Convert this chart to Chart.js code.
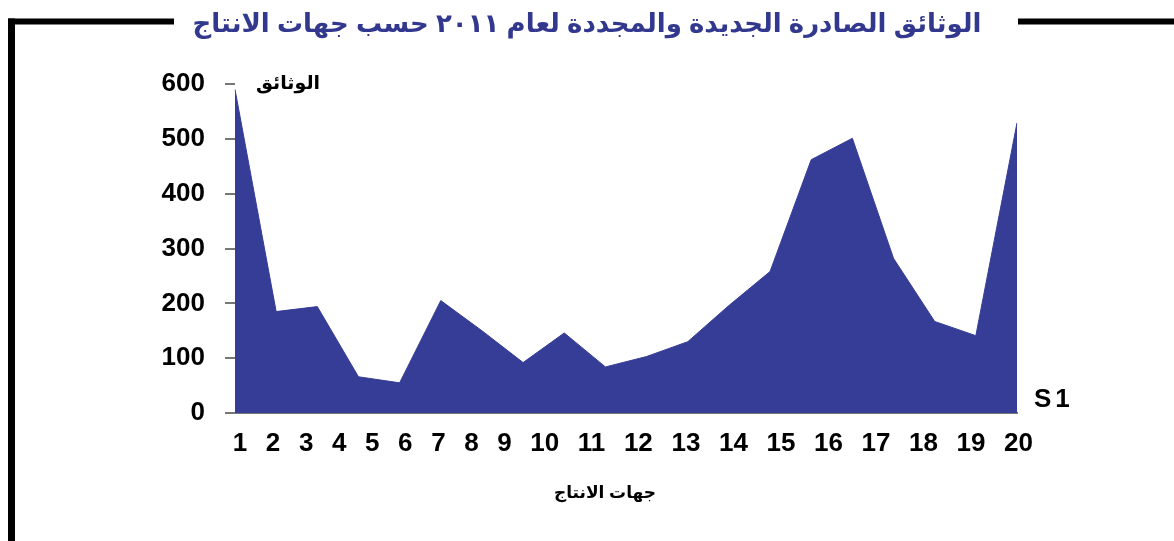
<!DOCTYPE html>
<html>
<head>
<meta charset="utf-8">
<script src="https://cdn.jsdelivr.net/npm/chart.js@4/dist/chart.umd.min.js"></script>
<style>
  html, body { margin: 0; padding: 0; background: #fff; }
  #chart-container { width: 1174px; height: 541px; }
</style>
</head>
<body>
<div id="chart-container"><canvas id="area-chart"></canvas></div>
<script>
// values
const categories = ["1", "2", "3", "4", "5", "6", "7", "8", "9", "10",
                    "11", "12", "13", "14", "15", "16", "17", "18", "19", "20"];
const documents = [590, 185, 194, 66, 55, 205, 150, 92, 146, 84,
                   103, 130, 196, 258, 462, 501, 282, 167, 141, 529];
const yTicks = [0, 100, 200, 300, 400, 500, 600];

const chartTitle = "الوثائق الصادرة الجديدة والمجددة لعام ٢٠١١ حسب جهات الانتاج";
const yTitle = "الوثائق";
const xTitle = "جهات الانتاج";
const seriesName = "S1";

const areaColor = "#363d96";
const titleColor = "#33388f";
const tickFont = { family: "Arial", size: 26, weight: "bold" };

// in the original the category labels run like a line of text
// (fixed gap between them), not under the data points
const labelGap = 18.6;
const labelStart = 5;
const plotWidth = 782;

function labelPositions() {
  const c = document.createElement("canvas").getContext("2d");
  c.font = "bold " + tickFont.size + "px " + tickFont.family;
  const widths = categories.map(t => c.measureText(t).width);
  const pos = [labelStart];
  for (let i = 1; i < widths.length; i++) {
    pos.push(pos[i - 1] + widths[i - 1] / 2 + labelGap + widths[i] / 2);
  }
  return pos;
}

// frame, title and the loose labels round the plot
const framePlugin = {
  id: "frame",
  beforeDraw(chart) {
    const ctx = chart.ctx;
    ctx.save();
    ctx.fillStyle = "#fff";
    ctx.fillRect(0, 0, chart.width, chart.height);
    ctx.strokeStyle = "#000";
    ctx.lineWidth = 6;
    ctx.beginPath();
    ctx.moveTo(8, 21.5);
    ctx.lineTo(174, 21.5);
    ctx.moveTo(1018, 21.5);
    ctx.lineTo(chart.width, 21.5);
    ctx.stroke();
    ctx.lineWidth = 7;
    ctx.beginPath();
    ctx.moveTo(11.5, 18.5);
    ctx.lineTo(11.5, chart.height);
    ctx.stroke();
    ctx.restore();
  },
  afterDraw(chart) {
    const ctx = chart.ctx;
    const area = chart.chartArea;
    const y = chart.scales.y;
    ctx.save();
    ctx.textAlign = "center";
    ctx.textBaseline = "middle";
    ctx.fillStyle = titleColor;
    ctx.font = "bold 26px Arial, 'DejaVu Sans'";
    ctx.fillText(chartTitle, 587, 25);

    ctx.fillStyle = "#000";
    ctx.font = "bold 19px Arial, 'DejaVu Sans'";
    ctx.fillText(yTitle, 288, y.getPixelForValue(600));

    ctx.font = "bold 17px Arial, 'DejaVu Sans'";
    ctx.fillText(xTitle, 605, 493);

    ctx.textAlign = "left";
    ctx.font = "bold 26px Arial";
    ctx.letterSpacing = "4px";
    ctx.fillText(seriesName, area.right + 17, y.getPixelForValue(0) - 13);
    ctx.restore();
  }
};

document.addEventListener("DOMContentLoaded", function () {
  const canvas = document.getElementById("area-chart");
  window.areaChart = new Chart(canvas, {
    type: "line",
    data: {
      labels: categories,
      datasets: [{
        label: seriesName,
        data: documents,
        fill: "origin",
        backgroundColor: areaColor,
        borderColor: areaColor,
        borderWidth: 1,
        pointRadius: 0,
        tension: 0,
      }]
    },
    options: {
      responsive: true,
      maintainAspectRatio: false,
      animation: false,
      events: [],
      layout: {
        padding: { left: 0, right: 157, top: 84, bottom: 0 }
      },
      plugins: {
        legend: { display: false },
        title: { display: false },
        tooltip: { enabled: false },
      },
      scales: {
        x: {
          type: "category",
          offset: false,
          grid: { display: false },
          border: { display: true, color: "#777", width: 2 },
          ticks: { display: false },
          afterFit(scale) {
            scale.height = 0;
          },
        },
        xLabels: {
          type: "linear",
          position: "bottom",
          min: 0,
          max: plotWidth,
          grid: { display: false },
          border: { display: false },
          afterBuildTicks(scale) {
            scale.ticks = labelPositions().map(v => ({ value: v }));
          },
          ticks: {
            color: "#000",
            font: tickFont,
            padding: 7,
            maxRotation: 0,
            autoSkip: false,
            callback: (value, index) => categories[index],
          },
          afterFit(scale) {
            scale.height = 128;
          },
        },
        y: {
          min: 0,
          max: 600,
          afterBuildTicks(scale) {
            scale.ticks = yTicks.map(v => ({ value: v }));
          },
          grid: {
            display: true,
            drawOnChartArea: false,
            drawTicks: true,
            tickLength: 10,
            color: "#777",
            lineWidth: 2,
          },
          border: { display: false },
          ticks: {
            color: "#000",
            font: tickFont,
            padding: 20,
          },
          afterFit(scale) {
            scale.width = 235;
          },
        }
      }
    },
    plugins: [framePlugin]
  });
});
</script>
</body>
</html>
